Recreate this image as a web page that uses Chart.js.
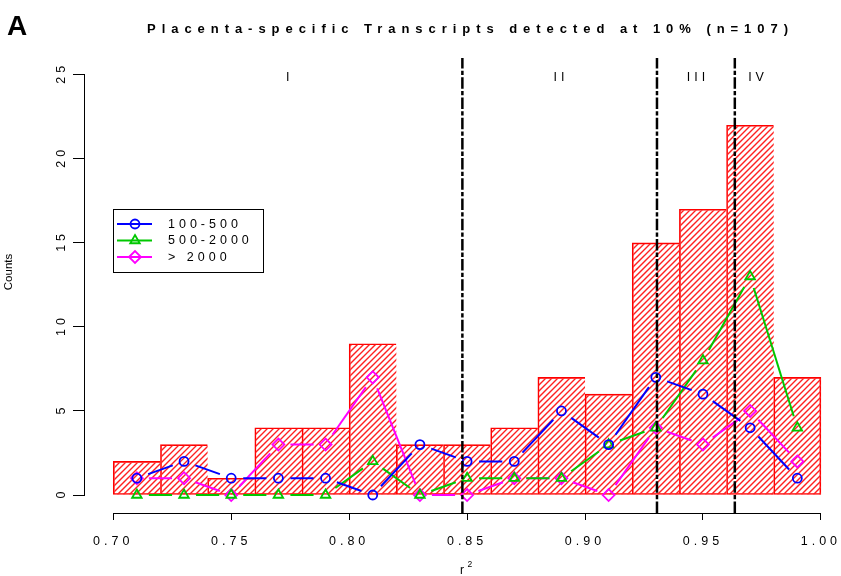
<!DOCTYPE html>
<html><head><meta charset="utf-8">
<script src="https://cdn.jsdelivr.net/npm/chart.js@4.4.0/dist/chart.umd.min.js"></script>
<style>html,body{margin:0;padding:0;background:#fff;}canvas{display:block;}</style>
</head><body>
<canvas id="c" width="841" height="576"></canvas>
<script>
// ---- data ----
const binCenters      = [0.71,0.73,0.75,0.77,0.79,0.81,0.83,0.85,0.87,0.89,0.91,0.93,0.95,0.97,0.99];
const totalCounts     = [2,3,1,4,4,9,3,3,4,7,6,15,17,22,7];
const counts100to500  = [1,2,1,1,1,0,3,2,2,5,3,7,6,4,1];
const counts500to2000 = [0,0,0,0,0,2,0,1,1,1,3,4,8,13,4];
const countsOver2000  = [1,1,0,3,3,7,0,0,1,1,0,4,3,5,2];
const seriesNames     = ['100-500','500-2000','> 2000'];
const cutoffs         = [0.848, 0.9305, 0.9635];
const regionLabels    = ['I','II','III','IV'];
const regionLabelX    = [0.774, 0.889, 0.947, 0.9725];
const xTicks          = [0.70,0.75,0.80,0.85,0.90,0.95,1.00];
const yTicks          = [0,5,10,15,20,25];
const titleText       = 'Placenta-specific Transcripts detected at 10% (n=107)';

const FONT = '"Liberation Sans", Arial, Helvetica, sans-serif';
const SPACING = '4px';
const colors = ['#0000FF', '#00C800', '#FF00FF'];
const styles = ['circle', 'triangle', 'rectRot'];
const radii  = [4.5, 5.5, 6];

const pairs = vals => binCenters.map((x,i)=>({x, y: vals[i]}));
const GAP = 12;
function gapDash(ctx){
  const L = Math.hypot(ctx.p1.x-ctx.p0.x, ctx.p1.y-ctx.p0.y);
  if (L <= 2*GAP) return [0, L+10];
  return [0, GAP, L-2*GAP, GAP];
}

const seriesVals = [counts100to500, counts500to2000, countsOver2000];
const lastBin = binCenters.length - 1;
const datasets = [{
  type:'bar', data: pairs(totalCounts), order: 2,
  backgroundColor: 'rgba(255,255,255,0)', borderColor:'#FF0000',
  borderWidth: c => c.dataIndex === lastBin ? 1 : {top:1, left:1, bottom:1, right:0},
  borderSkipped: false,
  barPercentage:1, categoryPercentage:1, grouped:false
}];
seriesVals.forEach((v,i)=>datasets.push({
  type:'line', label: seriesNames[i], data: pairs(v), order: 1,
  borderColor: colors[i], borderWidth: 2, tension: 0, borderCapStyle: 'butt',
  pointStyle: styles[i], pointRadius: radii[i], pointBorderWidth: 1.8,
  pointBorderColor: colors[i], pointBackgroundColor:'rgba(0,0,0,0)',
  segment: { borderDash: gapDash, borderDashOffset: c => c.p0DataIndex*1e-4 }
}));
cutoffs.forEach(c=>datasets.push({
  type:'line', data:[{x:c,y:-1.07},{x:c,y:26}], order:0,
  borderColor:'#000', borderWidth:2.5, borderDash:[11.5,2.2,4.3,2.2], pointRadius:0
}));

// hatch fill inside each bar drawn by the library
const hatchPlugin = {
  id:'hatch',
  afterDatasetDraw(chart, args){
    if (args.index !== 0) return;
    const ctx = chart.ctx;
    ctx.save();
    ctx.setLineDash([]);
    ctx.strokeStyle = '#FF2020'; ctx.lineWidth = 1.4;
    args.meta.data.forEach(bar=>{
      const p = bar.getProps(['x','y','base','width'], true);
      const l = p.x - p.width/2, r = p.x + p.width/2, t = Math.min(p.y, p.base), b = Math.max(p.y, p.base);
      ctx.save();
      ctx.beginPath(); ctx.rect(l+1, t+1, r-l-1, b-t-1); ctx.clip();
      ctx.beginPath();
      const S = 6;
      const c0 = Math.floor((l + t)/S)*S, c1 = r + b + S;
      for (let c = c0; c <= c1; c += S) { ctx.moveTo(c - t, t); ctx.lineTo(c - b, b); }
      ctx.stroke();
      ctx.restore();
    });
    ctx.restore();
  }
};

const decor = {
  id:'decor',
  beforeDraw(chart){ chart.ctx.letterSpacing = SPACING; },
  afterDraw(chart){
    const ctx = chart.ctx, xs = chart.scales.x, ys = chart.scales.y;
    ctx.save();
    ctx.fillStyle = '#000'; ctx.strokeStyle = '#000';
    // axis lines
    ctx.lineWidth = 1;
    ctx.beginPath();
    const yb = chart.chartArea.bottom + 0.5;
    ctx.moveTo(xs.getPixelForValue(xTicks[0]), yb);
    ctx.lineTo(xs.getPixelForValue(xTicks[xTicks.length-1]), yb);
    const xl = chart.chartArea.left - 0.5;
    ctx.moveTo(xl, ys.getPixelForValue(yTicks[0]));
    ctx.lineTo(xl, ys.getPixelForValue(yTicks[yTicks.length-1]));
    ctx.stroke();
    // y tick labels (rotated)
    ctx.letterSpacing = SPACING;
    ctx.font = '12.5px ' + FONT;
    ctx.textAlign = 'center'; ctx.textBaseline = 'middle';
    yTicks.forEach(v=>{
      ctx.save(); ctx.translate(62, ys.getPixelForValue(v)); ctx.rotate(-Math.PI/2);
      ctx.fillText(String(v), 2, 0); ctx.restore();
    });
    // region labels
    regionLabels.forEach((t,i)=>{
      ctx.fillText(t, xs.getPixelForValue(regionLabelX[i]) + 2, ys.getPixelForValue(25) + 2.5);
    });
    // axis titles
    ctx.letterSpacing = '0px';
    ctx.font = '11.5px ' + FONT;
    ctx.save(); ctx.translate(8.5, 272); ctx.rotate(-Math.PI/2);
    ctx.fillText('Counts', 0, 0); ctx.restore();
    ctx.textAlign = 'left'; ctx.textBaseline = 'alphabetic';
    ctx.font = '12px ' + FONT; ctx.fillText('r', 460, 574);
    ctx.font = '8.5px ' + FONT; ctx.fillText('2', 467.5, 567);
    // title
    ctx.font = 'bold 13px ' + FONT;
    const w0 = ctx.measureText(titleText).width;
    ctx.letterSpacing = ((641 - w0) / (titleText.length - 1)) + 'px';
    ctx.fillText(titleText, 147, 32.5);
    ctx.letterSpacing = '0px';
    // panel letter
    ctx.font = 'bold 28px ' + FONT; ctx.fillText('A', 7, 34.5);
    // legend
    ctx.lineWidth = 1;
    ctx.strokeRect(113.5, 209.5, 150, 63);
    const rows = [224, 240.5, 257];
    ctx.letterSpacing = SPACING;
    ctx.font = '12.5px ' + FONT; ctx.textBaseline = 'middle';
    seriesNames.forEach((n,i)=>{
      ctx.strokeStyle = colors[i]; ctx.lineWidth = 1.8;
      ctx.beginPath(); ctx.moveTo(117, rows[i]); ctx.lineTo(152, rows[i]); ctx.stroke();
      ctx.fillStyle = 'rgba(0,0,0,0)';
      Chart.helpers.drawPoint(ctx, {pointStyle: styles[i], radius: radii[i], borderWidth: 1.8,
        rotation: 0}, 135, rows[i]);
      ctx.fillStyle = '#000';
      ctx.fillText(n, 168, rows[i] + 0.5);
    });
    ctx.restore();
  }
};

new Chart(document.getElementById('c'), {
  type:'bar',
  data:{ datasets },
  options:{
    responsive:false, animation:false, devicePixelRatio:1,
    layout:{ padding:{ top:58, right:7, left:0, bottom:0 } },
    plugins:{ legend:{display:false}, tooltip:{enabled:false}, title:{display:false} },
    scales:{
      x:{
        type:'linear', min:0.68801, max:1.00521, offset:false,
        afterBuildTicks: s => { s.ticks = xTicks.map(v=>({value:v})); },
        afterFit: s => { s.height = 63; s.paddingLeft = 0; s.paddingRight = 0; },
        grid:{ drawOnChartArea:false, drawTicks:true, tickLength:7, tickColor:'#000', tickWidth:1, offset:false },
        border:{ display:false },
        ticks:{ color:'#000', font:{family:FONT, size:12.5}, padding:14, maxRotation:0, minRotation:0, autoSkip:false,
          callback: v => Number(v).toFixed(2) }
      },
      y:{
        type:'linear', min:-1.07, max:26,
        afterBuildTicks: s => { s.ticks = yTicks.map(v=>({value:v})); },
        afterFit: s => { s.width = 85; s.paddingTop = 0; s.paddingBottom = 0; },
        grid:{ drawOnChartArea:false, drawTicks:true, tickLength:12, tickColor:'#000', tickWidth:1 },
        border:{ display:false },
        ticks:{ display:false }
      }
    }
  },
  plugins:[hatchPlugin, decor]
});
</script>
</body></html>
